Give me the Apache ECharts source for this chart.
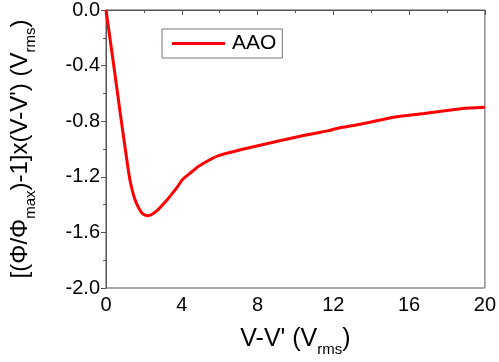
<!DOCTYPE html>
<html>
<head>
<meta charset="utf-8">
<script src="https://cdn.jsdelivr.net/npm/echarts@6/dist/echarts.min.js"></script>
<style>
  html, body { margin: 0; padding: 0; background: #fff; }
  #chart { width: 499px; height: 362px; }
</style>
</head>
<body>
<div id="chart"></div>
<script>
// curve: V-V' (Vrms) vs [(Φ/Φmax)-1]x(V-V')
var xVals = [0, 0.4, 0.8, 1.05, 1.26, 1.52, 1.89, 2.2, 2.68, 3.2, 3.73, 4.04, 4.57, 4.93,
  5.98, 8.08, 10.18, 11.76, 12.13, 13.49, 15.28, 16.64, 18.74, 20];
var yVals = [0, -0.39, -0.79, -1.03, -1.22, -1.36, -1.46, -1.48, -1.445, -1.37, -1.28, -1.22, -1.16, -1.12,
  -1.046, -0.975, -0.91, -0.868, -0.854, -0.82, -0.77, -0.747, -0.71, -0.70];
var seriesName = 'AAO';

var pts = xVals.map(function (x, i) { return [x, yVals[i]]; });

var chart = echarts.init(document.getElementById('chart'));
chart.setOption({
  animation: false,
  textStyle: { fontFamily: 'Liberation Sans, Arial, sans-serif' },
  grid: {
    left: 106, right: 12, top: 10, bottom: 71,
    show: true, borderColor: '#555', borderWidth: 1
  },
  legend: {
    left: 162, top: 29,
    padding: [4, 6, 4, 10],
    borderColor: '#777', borderWidth: 1,
    icon: 'rect',
    itemWidth: 53, itemHeight: 3,
    textStyle: { fontSize: 21, color: '#000', padding: [0, 0, 0, 2] },
    data: [seriesName]
  },
  xAxis: {
    type: 'value', min: 0, max: 20, interval: 4,
    name: 'V-V\' (V{sub|rms})',
    nameLocation: 'middle', nameGap: 33,
    nameTextStyle: {
      fontSize: 25, color: '#000',
      rich: { sub: { fontSize: 15, verticalAlign: 'top', padding: [21, 0, 0, 0] } }
    },
    axisLine: { lineStyle: { color: '#555', width: 1 } },
    axisTick: { show: true, inside: false, length: 5, lineStyle: { color: '#555' } },
    minorTick: { show: true, splitNumber: 2, length: 3, lineStyle: { color: '#555' } },
    axisLabel: { fontSize: 20, color: '#000', margin: 7 },
    splitLine: { show: false }
  },
  yAxis: {
    type: 'value', min: -2, max: 0, interval: 0.4,
    name: '[(Φ/Φ{sub|max})-1]x(V-V\') (V{sub|rms})',
    nameLocation: 'middle', nameGap: 68,
    nameTextStyle: {
      fontSize: 24, color: '#000',
      rich: { sub: { fontSize: 15, verticalAlign: 'top', padding: [20, 0, 0, 0] } }
    },
    axisLine: { lineStyle: { color: '#555', width: 1 } },
    axisTick: { show: true, inside: false, length: 5, lineStyle: { color: '#555' } },
    minorTick: { show: true, splitNumber: 2, length: 3, lineStyle: { color: '#555' } },
    axisLabel: {
      fontSize: 20, color: '#000', margin: 6,
      formatter: function (v) { return v.toFixed(1); }
    },
    splitLine: { show: false }
  },
  series: [{
    name: seriesName,
    type: 'line',
    data: pts,
    smooth: 0.25,
    symbol: 'none',
    lineStyle: { color: '#ff0000', width: 3 },
    itemStyle: { color: '#ff0000' }
  }]
});
</script>
</body>
</html>
